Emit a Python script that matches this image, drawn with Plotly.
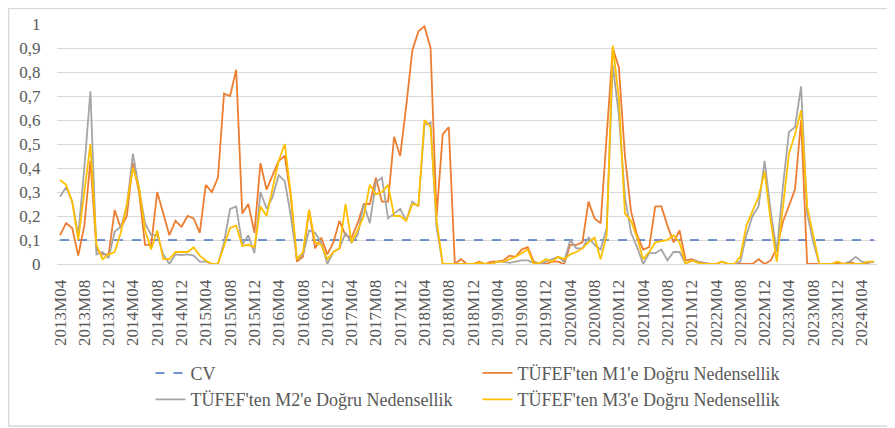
import plotly.graph_objects as go

# monthly categories 2013M04 .. 2024M06
months = []
for year in range(2013, 2025):
    for m in range(1, 13):
        if (year == 2013 and m < 4) or (year == 2024 and m > 6):
            continue
        months.append(f"{year}M{m:02d}")

tick_labels = months[::4]

cv = 0.1

m1 = [
    0.12, 0.17, 0.15, 0.035, 0.16, 0.43, 0.06, 0.04, 0.04,                  # 2013
    0.225, 0.15, 0.20, 0.42, 0.30, 0.08, 0.08, 0.30, 0.21, 0.12, 0.18, 0.155,  # 2014
    0.20, 0.19, 0.13, 0.33, 0.30, 0.36, 0.71, 0.70, 0.81, 0.21, 0.25, 0.13,    # 2015
    0.42, 0.31, 0.37, 0.43, 0.45, 0.28, 0.01, 0.03, 0.225, 0.065, 0.11, 0.04,  # 2016
    0.09, 0.18, 0.12, 0.11, 0.17, 0.25, 0.25, 0.36, 0.26, 0.26, 0.53, 0.45,    # 2017
    0.66, 0.89, 0.97, 0.99, 0.90, 0.20, 0.54, 0.57, 0.0, 0.02, 0.0, 0.0,       # 2018
    0.01, 0.0, 0.01, 0.01, 0.015, 0.035, 0.03, 0.06, 0.07, 0.01, 0.0, 0.0,     # 2019
    0.01, 0.01, 0.0, 0.08, 0.08, 0.09, 0.26, 0.19, 0.17, 0.55, 0.90, 0.82,     # 2020
    0.45, 0.22, 0.12, 0.06, 0.07, 0.24, 0.24, 0.16, 0.09, 0.14, 0.015, 0.02,   # 2021
    0.01, 0.005, 0.0, 0.0, 0.01, 0.0, 0.0, 0.0, 0.0, 0.0, 0.02, 0.0,           # 2022
    0.015, 0.065, 0.175, 0.245, 0.31, 0.60, 0.0, 0.0, 0.0, 0.0, 0.0, 0.0,      # 2023
    0.0, 0.01, 0.0, 0.0, 0.005, 0.01,                                          # 2024
]

m2 = [
    0.28, 0.32, 0.26, 0.12, 0.40, 0.72, 0.04, 0.05, 0.025,
    0.135, 0.155, 0.24, 0.46, 0.31, 0.17, 0.12, 0.12, 0.04, 0.0, 0.04, 0.037,
    0.04, 0.035, 0.01, 0.01, 0.0, 0.0, 0.09, 0.23, 0.24, 0.08, 0.12, 0.045,
    0.30, 0.23, 0.28, 0.37, 0.345, 0.20, 0.02, 0.04, 0.14, 0.13, 0.09, 0.0,
    0.05, 0.065, 0.13, 0.09, 0.12, 0.25, 0.17, 0.34, 0.36, 0.19, 0.21, 0.23,
    0.18, 0.26, 0.24, 0.58, 0.59, 0.15, 0.0, 0.0, 0.0, 0.0, 0.0, 0.0,
    0.0, 0.0, 0.0, 0.01, 0.01, 0.005, 0.01, 0.015, 0.015, 0.005, 0.0, 0.01,
    0.02, 0.03, 0.01, 0.10, 0.065, 0.065, 0.11, 0.08, 0.06, 0.15, 0.83, 0.62,
    0.28, 0.13, 0.07, 0.0, 0.045, 0.045, 0.06, 0.015, 0.05, 0.05, 0.0, 0.015,
    0.01, 0.005, 0.0, 0.0, 0.01, 0.0, 0.0, 0.01, 0.12, 0.20, 0.24, 0.43,
    0.22, 0.05, 0.32, 0.55, 0.57, 0.74, 0.21, 0.09, 0.0, 0.0, 0.0, 0.01,
    0.0, 0.01, 0.03, 0.01, 0.005, 0.01,
]

m3 = [
    0.35, 0.33, 0.26, 0.10, 0.30, 0.50, 0.08, 0.02, 0.04,
    0.05, 0.13, 0.25, 0.40, 0.32, 0.14, 0.06, 0.14, 0.02, 0.02, 0.05, 0.05,
    0.05, 0.07, 0.035, 0.015, 0.0, 0.0, 0.08, 0.15, 0.16, 0.075, 0.08, 0.07,
    0.24, 0.20, 0.315, 0.43, 0.50, 0.29, 0.02, 0.05, 0.225, 0.09, 0.08, 0.02,
    0.05, 0.065, 0.25, 0.09, 0.14, 0.20, 0.33, 0.29, 0.30, 0.33, 0.20, 0.20,
    0.18, 0.25, 0.245, 0.60, 0.57, 0.18, 0.0, 0.0, 0.0, 0.0, 0.0, 0.0,
    0.005, 0.0, 0.0, 0.01, 0.01, 0.02, 0.03, 0.045, 0.06, 0.0, 0.005, 0.02,
    0.01, 0.03, 0.02, 0.04, 0.05, 0.065, 0.09, 0.11, 0.02, 0.12, 0.91, 0.69,
    0.21, 0.18, 0.11, 0.02, 0.05, 0.09, 0.095, 0.10, 0.12, 0.09, 0.0, 0.015,
    0.005, 0.0, 0.0, 0.0, 0.01, 0.0, 0.0, 0.03, 0.16, 0.22, 0.28, 0.385,
    0.18, 0.01, 0.24, 0.46, 0.54, 0.64, 0.24, 0.12, 0.0, 0.0, 0.0, 0.01,
    0.0, 0.0, 0.0, 0.0, 0.01, 0.01,
]

font = "Liberation Serif"

fig = go.Figure()
fig.add_trace(go.Scatter(x=months, y=[cv] * len(months), mode="lines", name="CV",
                         line=dict(color="#4472C4", width=1.5, dash="dash")))
fig.add_trace(go.Scatter(x=months, y=m1, mode="lines",
                         name="TÜFEF'ten M1'e Doğru Nedensellik",
                         line=dict(color="#ED7D31", width=1.8)))
fig.add_trace(go.Scatter(x=months, y=m2, mode="lines",
                         name="TÜFEF'ten M2'e Doğru Nedensellik",
                         line=dict(color="#A5A5A5", width=1.8)))
fig.add_trace(go.Scatter(x=months, y=m3, mode="lines",
                         name="TÜFEF'ten M3'e Doğru Nedensellik",
                         line=dict(color="#FFC000", width=1.8)))

fig.update_xaxes(type="category", tickmode="array", tickvals=tick_labels,
                 ticktext=tick_labels, tickangle=-90, showgrid=False,
                 showline=True, linecolor="#D9D9D9", linewidth=1,
                 ticks="outside", ticklen=8, tickcolor="rgba(0,0,0,0)",
                 tickfont=dict(family=font, size=17, color="#595959"),
                 range=[-0.5, len(months) - 0.5])
fig.update_yaxes(range=[0, 1], dtick=0.1, showgrid=True, gridcolor="#D9D9D9",
                 gridwidth=1.2, zeroline=False, showline=False,
                 ticks="outside", ticklen=12, tickcolor="rgba(0,0,0,0)",
                 tickfont=dict(family=font, size=17, color="#595959"))

# the page body adds an 8px margin, so the figure is 8px smaller than the window
fig.update_layout(
    width=887, height=420,
    margin=dict(l=49, r=18, t=16, b=164, autoexpand=False),
    paper_bgcolor="white", plot_bgcolor="white",
    separators=", ",
    font=dict(family=font, color="#595959"),
    legend=dict(orientation="h", x=0.114, y=-0.378, xanchor="left", yanchor="top",
                entrywidth=282, entrywidthmode="pixels",
                font=dict(family=font, size=18, color="#595959"),
                tracegroupgap=0),
    shapes=[dict(type="rect", xref="paper", yref="paper",
                 x0=-0.0591, x1=1.0195, y0=-0.675, y1=1.0646,
                 line=dict(color="#D9D9D9", width=1.5), layer="below")],
)

fig.write_html("out.html")
